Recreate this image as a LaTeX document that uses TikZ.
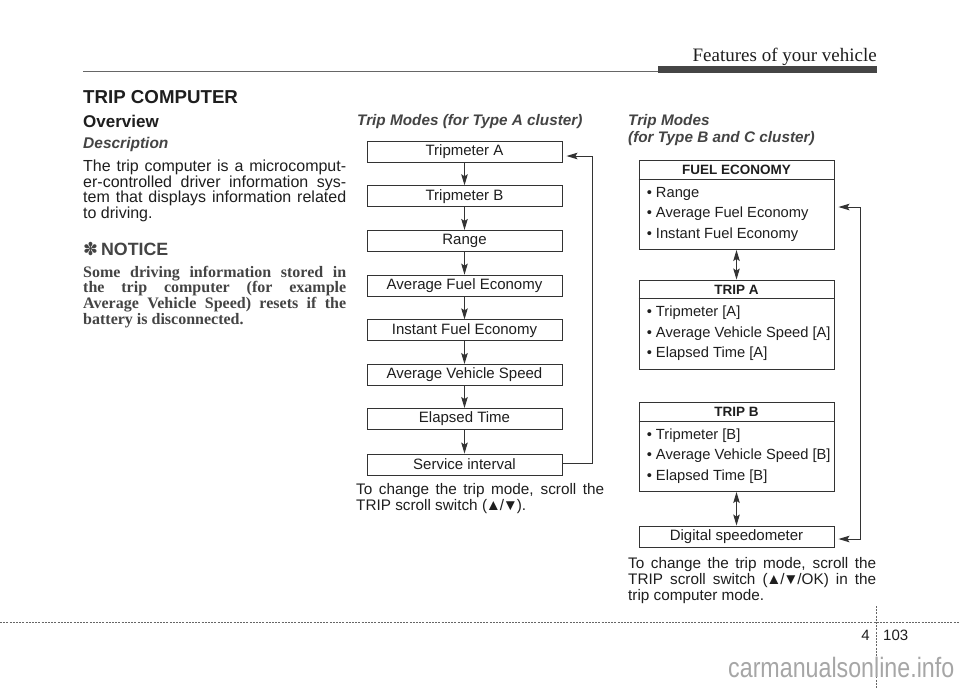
\documentclass[tikz,border=0pt]{standalone}
\usepackage{fontspec}
\usepackage{graphicx}
\setmainfont{Liberation Sans}
\newfontfamily\serifface{Liberation Serif}
\newfontfamily\dejavu{DejaVu Sans}
\usetikzlibrary{arrows.meta,calc}
\definecolor{ink}{HTML}{1E1E1E}
\definecolor{edge}{HTML}{333333}
\definecolor{headc}{HTML}{444444}
\definecolor{rulec}{HTML}{666666}
\definecolor{barc}{HTML}{454545}
\definecolor{wmc}{HTML}{A6A6A6}
\newcommand\fsz[1]{\fontsize{#1pt}{#1pt}\selectfont}
\newcommand\jline[2]{\makebox[#1pt][s]{#2}}
\newcommand\up{\kern-1.2pt▲\kern-1.2pt}
\newcommand\dn{\kern-1.2pt▼\kern-1.2pt}
\tikzset{
  txt/.style={inner sep=0pt, anchor=base west, text=ink},
  mbox/.style={draw=edge, line width=0.9pt, minimum width=195pt, minimum height=21pt, inner sep=0pt, font=\fsz{15}, text=ink},
  rbox/.style={draw=edge, line width=0.9pt, minimum width=195pt, minimum height=89pt, inner sep=0pt},
  rhead/.style={inner sep=0pt, font=\fsz{13.5}\bfseries, text=ink},
  ritem/.style={inner sep=0pt, anchor=base west, font=\fsz{14.7}, text=ink},
  tip/.tip={Stealth[length=11pt,width=6.5pt,inset=2pt]},
  arr/.style={draw=edge, line width=1pt, -tip},
  darr/.style={draw=edge, line width=1pt, tip-tip},
}
\begin{document}
\begin{tikzpicture}[x=1pt,y=-1pt]
\useasboundingbox (0,0) rectangle (960,689);
\fill[white] (0,0) rectangle (960,689);

% header
\node[txt, anchor=base east, font=\serifface\fsz{19}, text=ink] (hdr) at (877,61) {Features of your vehicle};
\draw[rulec, line width=1.6pt] (83,71.5) -- (658,71.5);
\fill[barc] (658,65.7) rectangle (877,72.5);

% left column
\node[txt, font=\fsz{18.7}\bfseries] (title) at (83,103.5) {TRIP COMPUTER};
\node[txt, font=\fsz{17}\bfseries] (ov) at (83,127.5) {Overview};
\node[txt, font=\fsz{15.5}\bfseries\itshape, text=headc] (desc) at (83,148.5) {Description};
\begin{scope}[every node/.style={txt, font=\fsz{16}}]
\node (b1) at (83,171.5) {\jline{263}{The trip computer is a microcomput-}};
\node (b2) at (83,187.2) {\jline{263}{er-controlled driver information sys-}};
\node (b3) at (83,202.9) {\jline{263}{tem that displays information related}};
\node (b4) at (83,218.6) {to driving.};
\end{scope}
\node[txt, font=\fsz{17.8}\bfseries, text=headc] (notice) at (83,255.5) {{\dejavu\bfseries ✽}\,NOTICE};
\begin{scope}[every node/.style={txt, font=\serifface\bfseries\fsz{16}, text=headc}]
\node (n1) at (83,277.2) {\jline{263}{Some driving information stored in}};
\node (n2) at (83,292.8) {\jline{263}{the trip computer (for example}};
\node (n3) at (83,308.4) {\jline{263}{Average Vehicle Speed) resets if the}};
\node (n4) at (83,324) {battery is disconnected.};
\end{scope}

% middle column
\node[txt, font=\fsz{15.3}\bfseries\itshape, text=headc] (mt) at (357,125.5) {Trip Modes (for Type A cluster)};
\node[mbox] (ta)  at (464.5,151.5) {Tripmeter A};
\node[mbox] (tb)  at (464.5,196.2) {Tripmeter B};
\node[mbox] (rg)  at (464.5,240.9) {Range};
\node[mbox] (afe) at (464.5,285.6) {Average Fuel Economy};
\node[mbox] (ife) at (464.5,330.3) {Instant Fuel Economy};
\node[mbox] (avs) at (464.5,375.0) {Average Vehicle Speed};
\node[mbox] (et)  at (464.5,419.0) {Elapsed Time};
\node[mbox] (svc) at (464.5,464.5) {Service interval};
\foreach \a/\b in {ta/tb, tb/rg, rg/afe, afe/ife, ife/avs, avs/et, et/svc}
  \draw[arr] (\a.south) -- (\b.north);
\draw[arr] ([yshift=1.5pt]svc.east) -- ++(30,0) |- ([xshift=4pt,yshift=-4.5pt]ta.east);
\begin{scope}[every node/.style={txt, font=\fsz{15.3}}]
\node (m1) at (356,494) {\jline{248}{To change the trip mode, scroll the}};
\node (m2) at (356,510.5) {TRIP scroll switch (\up/\dn).};
\end{scope}

% right column
\node[txt, font=\fsz{15.3}\bfseries\itshape, text=headc] (rt1) at (628,125.5) {Trip Modes};
\node[txt, font=\fsz{15.3}\bfseries\itshape, text=headc] (rt2) at (628,142) {(for Type B and C cluster)};

\node[rbox] (fuel) at (736.5,205.0) {};
\node[rbox] (tra)  at (736.5,324.5) {};
\node[rbox] (trb)  at (736.5,447.0) {};
\node[mbox] (dig)  at (736.5,536.5) {Digital speedometer};
\foreach \b in {fuel,tra,trb}
  \draw[edge, line width=0.9pt] ([yshift=-19pt]\b.north west) -- ([yshift=-19pt]\b.north east);

\node[rhead] (fuelh) at ([yshift=-10pt]fuel.north) {FUEL ECONOMY};
\node[ritem] (f1) at ([xshift=8pt,yshift=-37pt]fuel.north west) {• Range};
\node[ritem] (f2) at ([xshift=8pt,yshift=-57.5pt]fuel.north west) {• Average Fuel Economy};
\node[ritem] (f3) at ([xshift=8pt,yshift=-78pt]fuel.north west) {• Instant Fuel Economy};

\node[rhead] (trah) at ([yshift=-10pt]tra.north) {TRIP A};
\node[ritem] (a1) at ([xshift=8pt,yshift=-37pt]tra.north west) {• Tripmeter [A]};
\node[ritem] (a2) at ([xshift=8pt,yshift=-57.5pt]tra.north west) {• Average Vehicle Speed [A]};
\node[ritem] (a3) at ([xshift=8pt,yshift=-78pt]tra.north west) {• Elapsed Time [A]};

\node[rhead] (trbh) at ([yshift=-10pt]trb.north) {TRIP B};
\node[ritem] (c1) at ([xshift=8pt,yshift=-37pt]trb.north west) {• Tripmeter [B]};
\node[ritem] (c2) at ([xshift=8pt,yshift=-57.5pt]trb.north west) {• Average Vehicle Speed [B]};
\node[ritem] (c3) at ([xshift=8pt,yshift=-78pt]trb.north west) {• Elapsed Time [B]};

\draw[darr] (fuel.south) -- (tra.north);
\draw[darr] (trb.south) -- (dig.north);
\draw[darr] ([xshift=4pt,yshift=-2pt]fuel.east) -- ++(22,0) |- ([xshift=4pt,yshift=-2.5pt]dig.east);

\begin{scope}[every node/.style={txt, font=\fsz{15.3}}]
\node (r1) at (628,568) {\jline{248}{To change the trip mode, scroll the}};
\node (r2) at (628,584.3) {\jline{248}{TRIP scroll switch (\up/\dn/OK) in the}};
\node (r3) at (628,600.6) {trip computer mode.};
\end{scope}

% footer
\draw[rulec, line width=0.8pt, dash pattern=on 2pt off 1.2pt] (0,622) -- (960,622);
\draw[rulec, line width=0.8pt, dash pattern=on 2pt off 1.2pt] (876,606) -- (876,689);
\node[txt, anchor=base east, font=\fsz{15}] (pg4) at (870,640) {4};
\node[txt, font=\fsz{15}] (pg103) at (883,640) {103};
\node[txt, font=\fsz{28}, text=wmc] (wm) at (728,677) {\scalebox{0.83}[1]{carmanualsonline.info}};
\end{tikzpicture}
\end{document}
